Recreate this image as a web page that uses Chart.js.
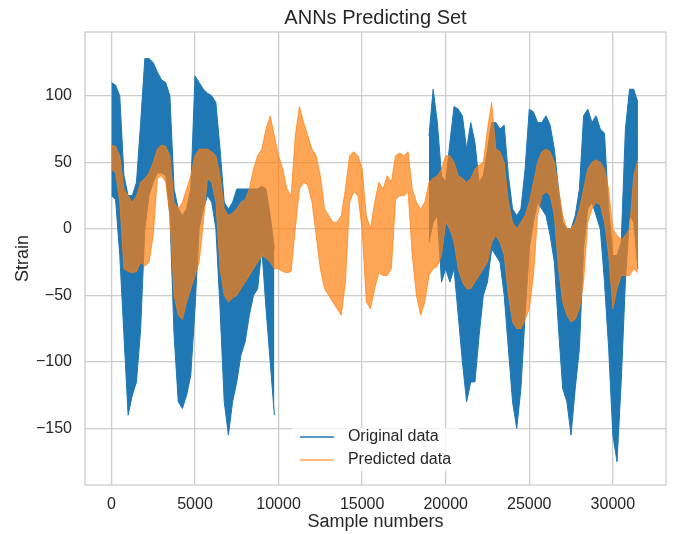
<!DOCTYPE html>
<html>
<head>
<meta charset="utf-8">
<title>ANNs Predicting Set</title>
<script src="https://cdn.jsdelivr.net/npm/chart.js@4.4.1/dist/chart.umd.min.js"></script>
<style>
  body { margin: 0; background: #fff; }
  #wrap { width: 673px; height: 534px; }
</style>
</head>
<body>
<div id="wrap"><canvas id="strainChart" width="673" height="534"></canvas></div>
<script>
// sample positions (every 250 samples) and the upper / lower envelope of each series
const sampleIdx = [
  0, 250, 500, 750, 1000, 1250, 1500, 1750, 2000, 2250,
  2500, 2750, 3000, 3250, 3500, 3750, 4000, 4250, 4500, 4750,
  5000, 5250, 5500, 5750, 6000, 6250, 6500, 6750, 7000, 7250,
  7500, 7750, 8000, 8250, 8500, 8750, 9000, 9250, 9500, 9750,
  10000, 10250, 10500, 10750, 11000, 11250, 11500, 11750, 12000, 12250,
  12500, 12750, 13000, 13250, 13500, 13750, 14000, 14250, 14500, 14750,
  15000, 15250, 15500, 15750, 16000, 16250, 16500, 16750, 17000, 17250,
  17500, 17750, 18000, 18250, 18500, 18750, 19000, 19250, 19500, 19750,
  20000, 20250, 20500, 20750, 21000, 21250, 21500, 21750, 22000, 22250,
  22500, 22750, 23000, 23250, 23500, 23750, 24000, 24250, 24500, 24750,
  25000, 25250, 25500, 25750, 26000, 26250, 26500, 26750, 27000, 27250,
  27500, 27750, 28000, 28250, 28500, 28750, 29000, 29250, 29500, 29750,
  30000, 30250, 30500, 30750, 31000, 31250, 31500
];
const originalHi = [
  110, 108, 100, 40, 25, 25, 35, 80, 128, 128,
  125, 118, 112, 110, 100, 30, 15, 10, 15, 30,
  115, 110, 105, 102, 100, 95, 60, 20, 15, 20,
  30, 30, 30, 30, 30, 30, 32, 30, 10, -15,
  null, null, null, null, null, null, null, null, null, null,
  null, null, null, null, null, null, null, null, null, null,
  null, null, null, null, null, null, null, null, null, null,
  null, null, null, null, null, null, 70, 105, 80, 40,
  35, 65, 92, 90, 85, 60, 80, 65, 35, 40,
  60, 80, 80, 75, 78, 40, 15, 10, 15, 45,
  90, 88, 80, 80, 85, 78, 60, 30, 5, 0,
  0, 10, 30, 85, 90, 80, 85, 75, 72, 15,
  -20, -20, -10, 75, 105, 105, 95
];
const originalLo = [
  25, 22, -20, -80, -140, -125, -115, -75, 0, 25,
  35, 42, 42, 40, 10, -80, -130, -135, -125, -110,
  -60, 0, 15, 25, 20, 0, -60, -130, -155, -130,
  -115, -95, -85, -65, -50, -45, -15, -60, -100, -140,
  null, null, null, null, null, null, null, null, null, null,
  null, null, null, null, null, null, null, null, null, null,
  null, null, null, null, null, null, null, null, null, null,
  null, null, null, null, null, null, -10, 5, 10, -40,
  -30, -40, -30, -65, -100, -130, -115, -115, -80, -50,
  -40, -15, -20, -25, -50, -90, -130, -150, -120, -65,
  -15, 5, 20, 15, 10, -5, -25, -75, -120, -130,
  -155, -120, -90, -15, 15, 20, 10, 0, -40, -90,
  -155, -175, -115, -40, 10, 5, -30
];
const predictedHi = [
  63, 62, 55, 30, 25, 20, 25, 35, 38, 42,
  50, 60, 63, 62, 55, 20, 15, 20, 30, 40,
  55, 60, 60, 60, 58, 55, 40, 15, 10, 12,
  15, 20, 22, 30, 45, 55, 60, 75, 85, 70,
  55, 45, 30, 25, 70, 92, 80, 70, 60, 55,
  40, 15, 10, 5, 5, 10, 30, 55, 58, 55,
  45, 10, 0, 20, 35, 30, 40, 35, 55, 57,
  55, 58, 30, 20, 15, 20, 35, 38, 40, 45,
  55, 55, 50, 40, 38, 35, 38, 45, 48, 50,
  75, 95, 60, 58, 50, 20, 5, 0, 5, 10,
  20, 35, 50, 58, 60, 58, 50, 30, 10, 0,
  0, 5, 15, 30, 45, 50, 52, 50, 45, 30,
  0, -5, -8, -5, 0, 40, 52
];
const predictedLo = [
  45, 42, 20, -30, -32, -33, -32, -25, -28, -25,
  -5, 38, 40, 35, 10, -50, -65, -68, -55, -45,
  -35, -25, 5, 38, 35, 20, -30, -50, -55, -52,
  -50, -45, -40, -35, -30, -25, -20, -22, -25, -30,
  -30, -32, -33, -32, 0, 30, 35, 33, 20, -5,
  -30, -45, -50, -55, -60, -65, -40, 20, 28, 25,
  0, -55, -60, -45, -33, -35, -35, -30, 22, 25,
  25, 28, -20, -50, -65, -55, -35, -30, -28, -20,
  5, 0, -10, -30, -40, -45, -45, -40, -35, -30,
  -25, -10, -5, -10, -20, -50, -70, -75, -75, -68,
  -60, -35, 10, 25, 28, 25, 10, -30, -55, -65,
  -70, -68, -60, -40, 5, 15, 20, 18, 5, -20,
  -60, -45, -35, -35, -35, -30, -33
];

const xTicks = [0, 5000, 10000, 15000, 20000, 25000, 30000];
const yTicks = [-150, -100, -50, 0, 50, 100];
const xRange = [-1580, 33180];
const yRange = [-192.5, 148];

const BLUE = '#1f77b4';
const ORANGE = 'rgba(255,127,14,0.7)';
const GRID = '#cccccc';
const INK = '#262626';
const FAMILY = '"Liberation Sans", Arial, Helvetica, sans-serif';

Chart.defaults.font.family = FAMILY;

const toPoints = arr => sampleIdx.map((s, i) => ({ x: s, y: arr[i] }));

const lineStyle = (color) => ({
  borderColor: color,
  backgroundColor: color,
  borderWidth: 1,
  pointRadius: 0,
  tension: 0,
  spanGaps: false
});

// frame, title and legend drawn on top of the plot
const decor = {
  id: 'decor',
  beforeDraw(chart) {
    const ctx = chart.ctx;
    ctx.save();
    ctx.fillStyle = '#fff';
    ctx.fillRect(0, 0, chart.width, chart.height);
    ctx.restore();
  },
  afterDraw(chart) {
    const { ctx, chartArea: a } = chart;
    ctx.save();
    ctx.strokeStyle = GRID;
    ctx.lineWidth = 1.3;
    ctx.strokeRect(a.left, a.top, a.right - a.left, a.bottom - a.top);

    ctx.fillStyle = INK;
    ctx.font = '20px ' + FAMILY;
    ctx.textAlign = 'center';
    ctx.textBaseline = 'middle';
    ctx.fillText('ANNs Predicting Set', (a.left + a.right) / 2, 18);

    // legend, lower center
    const items = [
      { text: 'Original data', color: BLUE },
      { text: 'Predicted data', color: ORANGE }
    ];
    ctx.font = '16px ' + FAMILY;
    const textW = Math.max(...items.map(it => ctx.measureText(it.text).width));
    const w = 8 + 34 + 14 + textW + 8;
    const left = (a.left + a.right) / 2 - w / 2;
    ctx.fillStyle = 'rgba(255,255,255,0.8)';
    ctx.fillRect(left, a.bottom - 57, w, 43);
    items.forEach((it, i) => {
      const y = a.bottom - 48 + i * 23;
      ctx.strokeStyle = it.color;
      ctx.lineWidth = 1.3;
      ctx.beginPath();
      ctx.moveTo(left + 8, y);
      ctx.lineTo(left + 42, y);
      ctx.stroke();
      ctx.fillStyle = INK;
      ctx.textAlign = 'left';
      ctx.fillText(it.text, left + 56, y);
    });
    ctx.restore();
  }
};

new Chart(document.getElementById('strainChart'), {
  type: 'line',
  data: {
    datasets: [
      { label: 'Original data', data: toPoints(originalHi), fill: false, order: 2, ...lineStyle(BLUE) },
      { label: 'Original data (low)', data: toPoints(originalLo), fill: '-1', order: 2, ...lineStyle(BLUE) },
      { label: 'Predicted data', data: toPoints(predictedHi), fill: false, order: 1, ...lineStyle(ORANGE) },
      { label: 'Predicted data (low)', data: toPoints(predictedLo), fill: '-1', order: 1, ...lineStyle(ORANGE) }
    ]
  },
  options: {
    responsive: false,
    animation: false,
    layout: { padding: { top: 32, right: 7, left: 0, bottom: 0 } },
    plugins: {
      legend: { display: false },
      title: { display: false },
      tooltip: { enabled: false }
    },
    scales: {
      x: {
        type: 'linear',
        min: xRange[0],
        max: xRange[1],
        afterBuildTicks: s => { s.ticks = xTicks.map(v => ({ value: v })); },
        afterFit: s => { s.height = 49; },
        grid: { color: GRID, lineWidth: 1.3, drawTicks: false },
        border: { display: false },
        ticks: { color: INK, font: { size: 16 }, padding: 10, maxRotation: 0, autoSkip: false, callback: v => String(v) },
        title: { display: true, text: 'Sample numbers', color: INK, font: { size: 18 }, padding: { top: 0, bottom: 1 } }
      },
      y: {
        min: yRange[0],
        max: yRange[1],
        afterBuildTicks: s => { s.ticks = yTicks.map(v => ({ value: v })); },
        afterFit: s => { s.width = 85; },
        grid: { color: GRID, lineWidth: 1.3, drawTicks: false },
        border: { display: false },
        ticks: { color: INK, font: { size: 16 }, padding: 13, callback: v => (v < 0 ? '\u2212' + Math.abs(v) : String(v)) },
        title: { display: true, text: 'Strain', color: INK, font: { size: 18 }, padding: { top: 12, bottom: 0 } }
      }
    }
  },
  plugins: [decor]
});
</script>
</body>
</html>
